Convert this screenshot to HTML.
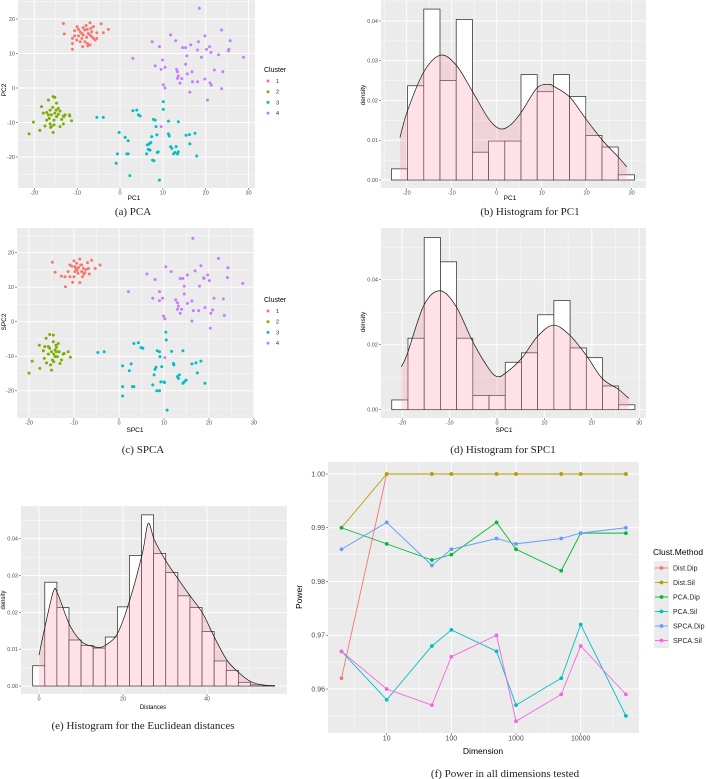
<!DOCTYPE html>
<html><head><meta charset="utf-8"><style>
html,body{margin:0;padding:0;background:#fff;}
svg{display:block;font-family:"Liberation Sans",sans-serif;}
.cap{font-family:"Liberation Serif",serif;font-size:11px;fill:#222;}
</style></head><body>
<svg id="fig" width="708" height="779" viewBox="0 0 708 779" xmlns="http://www.w3.org/2000/svg"></svg>
<script>
// ---------- DATA ----------
const clusterLabels=['1','2','3','4'];
const pcaC1=[[-13.2,18.7],[-13.0,15.7],[-11.1,14.4],[-11.1,12.9],[-11.1,11.2],[-10.0,17.8],[-9.7,17.0],[-10.6,16.6],[-9.3,16.3],[-8.6,17.5],[-8.2,16.8],[-7.9,18.1],[-7.6,17.0],[-7.0,18.9],[-6.8,17.3],[-6.2,17.8],[-7.4,15.8],[-7.0,15.4],[-6.6,14.9],[-6.2,14.4],[-7.8,14.7],[-8.6,15.4],[-8.9,14.4],[-9.3,13.4],[-10.1,13.9],[-7.6,12.9],[-7.0,12.5],[-5.8,13.9],[-5.4,16.0],[-4.4,18.6],[-3.9,16.0],[-2.7,17.0],[-8.7,12.0],[-7.5,12.2],[-5.4,14.4],[-8.2,13.4],[-6.6,16.3],[-8.9,15.8],[-10.6,15.1],[-9.7,15.1]];
const pcaC2=[[-21.2,-13.3],[-20.2,-9.9],[-18.7,-12.3],[-18.3,-5.4],[-17.5,-11.0],[-17.1,-7.1],[-16.7,-3.5],[-16.5,-8.8],[-16.0,-7.8],[-15.7,-5.6],[-15.6,-2.5],[-15.2,-2.7],[-16.3,-6.4],[-16.2,-11.4],[-15.4,-9.3],[-15.2,-7.3],[-14.8,-8.3],[-14.4,-5.9],[-14.0,-11.2],[-13.6,-9.1],[-13.2,-8.1],[-12.8,-7.8],[-13.2,-10.4],[-11.8,-7.8],[-11.3,-9.5],[-15.6,-12.9],[-16.3,-10.4],[-16.0,-11.2],[-17.1,-9.3],[-14.8,-4.4],[-14.9,-6.4],[-14.4,-7.6],[-14.0,-6.7],[-15.4,-10.7],[-16.7,-7.8],[-17.9,-7.3],[-11.7,-8.1],[-13.1,-8.3]];
const pcaC3=[[-5.4,-8.5],[-3.9,-8.5],[-0.2,-12.9],[-0.6,-19.1],[-0.9,-21.8],[1.2,-14.3],[1.6,-19.1],[1.9,-19.1],[1.9,-15.3],[2.3,-25.4],[3.0,-6.6],[3.9,-6.4],[4.3,-7.8],[4.7,-8.1],[6.2,-19.1],[6.6,-17.8],[6.8,-16.2],[7.2,-15.8],[7.4,-14.1],[7.6,-20.9],[7.9,-21.1],[7.8,-9.1],[8.2,-9.3],[8.4,-11.2],[8.6,-13.6],[8.7,-18.7],[8.9,-18.5],[9.2,-26.7],[10.1,-4.0],[10.1,-6.2],[11.3,-9.6],[11.3,-13.3],[11.5,-13.9],[11.8,-17.0],[12.1,-17.5],[12.5,-19.1],[12.8,-18.7],[13.1,-17.0],[13.4,-19.1],[13.6,-18.5],[13.6,-9.8],[15.4,-13.7],[16.2,-13.5],[16.3,-16.2],[17.5,-13.1],[17.9,-19.7],[6.4,-16.5],[7.0,-18.0]];
const pcaC4=[[18.5,23.1],[23.7,16.8],[11.8,15.4],[13.0,13.7],[7.5,13.4],[9.2,12.0],[25.7,13.7],[14.6,11.7],[15.3,11.7],[16.5,12.5],[18.3,13.4],[19.8,15.1],[20.2,11.2],[20.9,12.0],[21.2,10.3],[18.1,11.0],[19.0,8.9],[23.0,9.6],[25.4,11.2],[25.3,10.8],[28.8,8.9],[3.0,8.6],[9.9,8.1],[8.2,6.4],[9.6,5.4],[10.5,6.0],[15.3,6.9],[15.6,9.3],[13.2,5.4],[13.4,4.7],[13.6,3.5],[14.4,2.7],[13.4,2.8],[14.0,1.4],[15.7,4.1],[16.8,4.7],[16.9,1.8],[18.1,1.8],[19.8,2.6],[21.0,1.5],[21.3,0.8],[22.0,5.2],[24.0,4.7],[23.7,-0.2],[16.3,-1.2],[20.4,-3.5],[10.1,0.9],[10.5,0],[9.6,-11.2]];
const spcaC1=[[-14.8,17.2],[-14.2,14.3],[-12.8,13.2],[-12.0,13.0],[-11.9,10.1],[-11.3,14.5],[-10.9,16.4],[-10.3,11.4],[-10.0,17.6],[-9.8,15.9],[-9.4,16.9],[-9.3,14.9],[-9.1,14.0],[-8.7,18.1],[-8.5,16.4],[-8.3,14.5],[-8.1,13.0],[-7.9,15.4],[-7.6,14.2],[-7.0,17.1],[-6.8,15.4],[-6.6,13.8],[-6.1,17.8],[-5.3,15.4],[-4.2,16.4],[-8.7,11.3],[-10.0,13.0],[-10.9,13.0],[-9.6,15.4],[-9.0,15.7],[-8.3,16.4],[-7.8,13.8],[-7.3,15.1],[-9.8,14.5],[-10.5,16.1]];
const spcaC2=[[-20.0,-14.9],[-19.3,-11.4],[-17.7,-6.8],[-17.6,-13.5],[-16.8,-8.4],[-16.6,-10.6],[-16.2,-4.8],[-16.1,-11.9],[-15.7,-7.2],[-15.4,-3.7],[-15.2,-12.5],[-15.0,-14.0],[-14.6,-3.9],[-14.6,-5.8],[-14.5,-9.4],[-14.2,-8.2],[-14.0,-6.8],[-13.9,-7.4],[-13.7,-10.1],[-13.5,-6.3],[-13.3,-8.7],[-13.1,-12.1],[-12.8,-11.1],[-12.4,-9.4],[-12.2,-9.2],[-11.3,-8.7],[-10.8,-10.3],[-15.4,-7.7],[-15.7,-9.4],[-16.5,-7.2],[-14.8,-11.1],[-14.5,-11.6],[-15.0,-8.7],[-13.9,-8.7],[-14.2,-10.1]];
const spcaC3=[[-4.7,-8.9],[-3.3,-8.7],[0.8,-12.8],[0.8,-18.8],[0.8,-21.5],[2.3,-14.2],[2.7,-12.2],[3.0,-18.8],[3.3,-18.8],[3.3,-6.3],[4.3,-6.1],[4.9,-7.5],[5.3,-7.7],[7.5,-18.3],[7.8,-15.4],[8.0,-13.8],[8.2,-13.2],[8.5,-8.4],[9.0,-8.7],[9.0,-20.0],[9.1,-10.1],[9.3,-17.4],[9.5,-13.0],[10.0,-17.4],[10.1,-17.6],[10.4,-3.0],[10.5,-5.3],[10.7,-25.6],[11.7,-8.6],[12.1,-12.1],[12.2,-12.5],[13.0,-15.9],[13.2,-16.4],[13.4,-15.4],[14.2,-8.4],[14.2,-17.8],[14.5,-17.4],[14.9,-16.9],[16.2,-12.2],[17.1,-11.9],[17.4,-14.8],[18.2,-11.4],[19.1,-17.8],[8.4,-20.0]];
const spcaC4=[[16.4,24.1],[22.1,18.3],[10.4,15.9],[11.6,14.5],[6.2,13.8],[8.0,12.2],[24.2,15.6],[13.6,12.5],[14.2,12.5],[15.2,13.5],[16.9,14.7],[18.2,16.2],[18.8,12.7],[19.7,13.5],[20.1,11.9],[17.9,10.3],[18.9,12.5],[24.1,12.8],[27.5,11.1],[2.1,8.7],[9.0,8.7],[7.5,6.8],[9.0,6.1],[9.7,6.8],[14.5,8.0],[14.5,10.3],[12.6,6.3],[13.0,5.5],[13.2,4.5],[13.9,3.6],[13.0,3.6],[13.6,2.4],[15.2,5.3],[16.2,6.0],[16.5,3.2],[17.7,3.2],[19.1,4.1],[20.4,2.4],[20.8,3.4],[21.1,6.8],[23.2,6.6],[23.4,1.8],[16.2,0.2],[20.3,-1.9],[9.9,1.6],[10.2,0.8],[10.2,-10.4]];

const histB=[0.0028,0.0237,0.043,0.025,0.0404,0.007,0.0098,0.0098,0.0265,0.0222,0.0265,0.021,0.0112,0.0083,0.0013];
const densBx=[-21.5,-19.8,-16.2,-12.5,-9.0,-5.3,-1.8,0.7,3.0,5.5,9.0,11.7,12.6,16.2,19.8,23.5,27.0,28.9];
const densBy=[0.0107,0.0175,0.0272,0.0314,0.0289,0.0221,0.0154,0.0129,0.0138,0.0171,0.0232,0.024,0.0236,0.0209,0.0154,0.0100,0.0058,0.0033];
const histD=[0.003,0.022,0.053,0.0455,0.022,0.0044,0.0044,0.0146,0.0175,0.0292,0.0336,0.019,0.016,0.0073,0.0015];
const densDx=[-20.2,-18.9,-15.4,-12.0,-8.6,-5.1,-1.75,0,1.75,5.2,8.5,11.9,15.3,18.8,22.2,25.6,27.8];
const densDy=[0.0132,0.0173,0.0322,0.0366,0.0317,0.0209,0.0127,0.0102,0.0112,0.0158,0.0225,0.026,0.023,0.0168,0.0096,0.0063,0.0035];
const histE=[0.0055,0.0282,0.0213,0.0125,0.011,0.0103,0.0133,0.0215,0.0355,0.0465,0.036,0.0308,0.0245,0.0213,0.0148,0.0068,0.0042,0.001,0.0003,0.0001];
const densEx=[0,1.35,3.4,4.4,7.3,10.2,13.0,14.5,15.9,18.7,21.6,24.6,26.0,27.5,30.3,33.3,36.1,39.0,41.7,44.7,47.6,50.4,53.2,56.2];
const densEy=[0.0084,0.0157,0.0256,0.0252,0.0166,0.012,0.0107,0.0105,0.0111,0.0143,0.0233,0.036,0.0442,0.0396,0.0338,0.0288,0.0243,0.0197,0.0134,0.0071,0.0036,0.0012,0.0003,0];

const dims=[2,10,50,100,500,1000,5000,10000,50000];
const methods=['Dist.Dip','Dist.Sil','PCA.Dip','PCA.Sil','SPCA.Dip','SPCA.Sil'];
const distDip=[0.962,1,1,1,1,1,1,1,1];
const distSil=[0.99,1,1,1,1,1,1,1,1];
const pcaDip=[0.99,0.987,0.984,0.985,0.991,0.986,0.982,0.989,0.989];
const pcaSil=[0.967,0.958,0.968,0.971,0.967,0.957,0.962,0.972,0.955];
const spcaDip=[0.986,0.991,0.983,0.986,0.988,0.987,0.988,0.989,0.990];
const spcaSil=[0.967,0.960,0.957,0.966,0.970,0.954,0.959,0.968,0.959];
const powerTicks=['0.96','0.97','0.98','0.99','1.00'];
const dimTicks=['10','100','1000','10000'];

// ---------- HELPERS ----------
const NS='http://www.w3.org/2000/svg';
const svg=document.getElementById('fig');
function mk(tag,attrs,parent){const e=document.createElementNS(NS,tag);for(const k in attrs)e.setAttribute(k,attrs[k]);(parent||svg).appendChild(e);return e;}
function txt(s,x,y,size,anchor,fill,parent,rot){const t=mk('text',{x:x,y:y,'font-size':size,'text-anchor':anchor||'middle',fill:fill||'#4d4d4d'},parent);if(rot)t.setAttribute('transform','rotate(-90 '+x+' '+y+')');t.textContent=s;return t;}
function lin(d0,p0,d1,p1){const k=(p1-p0)/(d1-d0);return v=>p0+(v-d0)*k;}
function smooth(pts){let d='M'+pts[0][0]+','+pts[0][1];for(let i=0;i<pts.length-1;i++){const p0=pts[i-1]||pts[i],p1=pts[i],p2=pts[i+1],p3=pts[i+2]||p2;const c1=[p1[0]+(p2[0]-p0[0])/6,p1[1]+(p2[1]-p0[1])/6],c2=[p2[0]-(p3[0]-p1[0])/6,p2[1]-(p3[1]-p1[1])/6];d+='C'+c1[0]+','+c1[1]+' '+c2[0]+','+c2[1]+' '+p2[0]+','+p2[1];}return d;}

function panel(name,r,sx,sy,xmaj,xmin,ymaj,ymin,xlab,ylab,fs){
  const g=mk('g',{});
  
  
  const bg=mk('rect',{x:r.x0,y:r.y0,width:r.x1-r.x0,height:r.y1-r.y0,fill:'#ebebeb'},g);
  
  
  const gg=mk('g',{},g);
  
  
  xmin.forEach(v=>mk('line',{x1:sx(v),x2:sx(v),y1:r.y0,y2:r.y1,stroke:'#fff','stroke-width':0.4},gg));
  ymin.forEach(v=>mk('line',{y1:sy(v),y2:sy(v),x1:r.x0,x2:r.x1,stroke:'#fff','stroke-width':0.4},gg));
  xmaj.forEach(v=>mk('line',{x1:sx(v[0]),x2:sx(v[0]),y1:r.y0,y2:r.y1,stroke:'#fff','stroke-width':0.9},gg));
  ymaj.forEach(v=>mk('line',{y1:sy(v[0]),y2:sy(v[0]),x1:r.x0,x2:r.x1,stroke:'#fff','stroke-width':0.9},gg));
  const xa=mk('g',{},g);
  
  
  xmaj.forEach(v=>{mk('line',{x1:sx(v[0]),x2:sx(v[0]),y1:r.y1,y2:r.y1+2,stroke:'#333','stroke-width':0.5},xa);txt(v[1],sx(v[0]),r.y1+2+fs*0.8,fs,'middle','#4d4d4d',xa);});
  const ya=mk('g',{},g);
  
  
  ymaj.forEach(v=>{mk('line',{x1:r.x0-2,x2:r.x0,y1:sy(v[0]),y2:sy(v[0]),stroke:'#333','stroke-width':0.5},ya);txt(v[1],r.x0-3,sy(v[0])+fs*0.35,fs,'end','#4d4d4d',ya);});
  const xt=txt(xlab[0],xlab[1],xlab[2],xlab[3],'middle','#000',g);
  
  
  const yt=txt(ylab[0],ylab[1],ylab[2],ylab[3],'middle','#000',g,true);
  
  
  return g;
}
function caption(s,x,y){const t=txt(s,x,y,11,'middle','#222');t.setAttribute('class','cap');
  
  }

const clColors=['#F8766D','#7CAE00','#00BFC4','#C77CFF'];
function scatter(name,r,sx,sy,clusters,xl,yl,legY){
  const g=panel(name,r,sx,sy,[[-20,'-20'],[-10,'-10'],[0,'0'],[10,'10'],[20,'20'],[30,'30']],[-25,-15,-5,5,15,25].filter(v=>sx(v)>r.x0&&sx(v)<r.x1),[[-20,'-20'],[-10,'-10'],[0,'0'],[10,'10'],[20,'20']],[-25,-15,-5,5,15,25].filter(v=>sy(v)>r.y0&&sy(v)<r.y1),xl,yl,5.5);
  clusters.forEach((pts,ci)=>pts.forEach(p=>{
    const c=mk('circle',{cx:sx(p[0]),cy:sy(p[1]),r:1.5,fill:clColors[ci]},g);
    
    
  }));
  const lg=mk('g',{},g);
  
  
  txt('Cluster',264,legY,7,'start','#000',lg);
  clusterLabels.forEach((l,i)=>{
    const y=legY+11+i*10.7;
    const e=mk('g',{},lg);
    
    
    mk('circle',{cx:268,cy:y-2,r:1.5,fill:clColors[i]},e);
    txt(l,276,y,5.5,'start','#222',e);
  });
}

function histo(name,r,sx,sy,start,w,heights,dx,dy,xmaj,xmin,ymaj,ymin,xl,yl){
  const g=panel(name,r,sx,sy,xmaj,xmin,ymaj,ymin,xl,yl,5.5);
  heights.forEach((h,i)=>{
    const x0=sx(start+i*w),x1=sx(start+(i+1)*w);
    const b=mk('rect',{x:x0,y:sy(h),width:x1-x0,height:sy(0)-sy(h),fill:'#fff',stroke:'#222','stroke-width':0.7},g);
    
    
  });
  const pts=dx.map((v,i)=>[sx(v),sy(dy[i])]);
  const line=smooth(pts);
  const fill=mk('path',{d:line+'L'+pts[pts.length-1][0]+','+sy(0)+'L'+pts[0][0]+','+sy(0)+'Z',fill:'rgba(255,150,170,0.28)',stroke:'none'},g);
  
  
  const dl=mk('path',{d:line,fill:'none',stroke:'#111','stroke-width':0.7},g);
  
  
}

// ---------- (a) ----------
scatter('pca-scatter',{x0:18,x1:255,y0:0,y1:188},lin(0,120,30,248.6),lin(0,88,20,19),[pcaC1,pcaC2,pcaC3,pcaC4],['PC1',134,200,6.5],['PC2',6,90,6.5],72);
caption('(a) PCA',133,215);
// ---------- (b) ----------
const dTicks=[[0,'0.00'],[0.01,'0.01'],[0.02,'0.02'],[0.03,'0.03'],[0.04,'0.04']];
histo('pc1-histogram',{x0:381,x1:646,y0:0,y1:188},lin(0,496.7,10,541.7),lin(0,180,0.01,140.25),-23.4,3.6,histB,densBx,densBy,
  [[-20,'-20'],[-10,'-10'],[0,'0'],[10,'10'],[20,'20'],[30,'30']],[-25,-15,-5,5,15,25],dTicks,[0.005,0.015,0.025,0.035,0.045],['PC1',510,200,6.5],['density',365,95,6.5]);
caption('(b) Histogram for PC1',530,215);
// ---------- (c) ----------
scatter('spca-scatter',{x0:17,x1:254,y0:228,y1:418},lin(0,119,30,254),lin(0,321.7,20,252.6),[spcaC1,spcaC2,spcaC3,spcaC4],['SPC1',135,432,6.5],['SPC2',6,322,6.5],302);
caption('(c) SPCA',143,453);
// ---------- (d) ----------
histo('spc1-histogram',{x0:381,x1:646,y0:228,y1:418},lin(0,497,10,544.4),lin(0,409.7,0.02,344.7),-22.2,3.42,histD,densDx,densDy,
  [[-20,'-20'],[-10,'-10'],[0,'0'],[10,'10'],[20,'20'],[30,'30']],[-15,-5,5,15,25],[[0,'0.00'],[0.02,'0.02'],[0.04,'0.04']],[0.01,0.03,0.05],['SPC1',504,432,6.5],['density',365,322,6.5]);
caption('(d) Histogram for SPC1',503,453);
// ---------- (e) ----------
histo('distance-histogram',{x0:21,x1:287,y0:506,y1:694},lin(0,39,20,123),lin(0,686,0.01,649.2),-1.5,2.88,histE,densEx,densEy,
  [[0,'0'],[20,'20'],[40,'40']],[10,30,50],dTicks,[0.005,0.015,0.025,0.035,0.045],['Distances',153,709,6],['density',5,600,6]);
caption('(e) Histogram for the Euclidean distances',143,729);

// ---------- (f) ----------
(function(){
  const r={x0:328,x1:639,y0:462,y1:733};
  const lx=lin(1,386.7,4,580.7);
  const sx=v=>lx(Math.log10(v));
  const sy=lin(0.96,689,1.0,474);
  const xmaj=dimTicks.map(t=>[Number(t),t]);
  const ymaj=powerTicks.map(t=>[Number(t),t]);
  const g=panel('power-line-chart',r,sx,sy,xmaj,[],ymaj,[0.955,0.965,0.975,0.985,0.995],['Dimension',483,754,8.5],['Power',302,597,8.5],7);
  [0.5,1.5,2.5,3.5,4.5].forEach(v=>{const l=mk('line',{x1:lx(v),x2:lx(v),y1:r.y0,y2:r.y1,stroke:'#fff','stroke-width':0.4},g);
    
    });
  const series=[distDip,distSil,pcaDip,pcaSil,spcaDip,spcaSil];
  const cols=['#F8766D','#B79F00','#00BA38','#00BFC4','#619CFF','#F564E3'];
  series.forEach((s,si)=>{
    const sg=mk('g',{},g);
    
    
    mk('polyline',{points:s.map((v,i)=>sx(dims[i])+','+sy(v)).join(' '),fill:'none',stroke:cols[si],'stroke-width':0.9},sg);
    s.forEach((v,i)=>{const c=mk('circle',{cx:sx(dims[i]),cy:sy(v),r:1.9,fill:cols[si]},sg);
      
      });
  });
  const lg=mk('g',{});
  
  
  txt('Clust.Method',653,555,8.5,'start','#000',lg);
  mk('rect',{x:654,y:561,width:15,height:87,fill:'#ebebeb'},lg);
  methods.forEach((m,i)=>{
    const y=568+i*14.5;
    const e=mk('g',{},lg);
    
    
    mk('line',{x1:655,x2:668,y1:y,y2:y,stroke:cols[i],'stroke-width':0.9},e);
    mk('circle',{cx:661.5,cy:y,r:1.9,fill:cols[i]},e);
    txt(m,673,y+2.5,7,'start','#222',e);
  });
})();
caption('(f) Power in all dimensions tested',505,777);
</script>
</body></html>
